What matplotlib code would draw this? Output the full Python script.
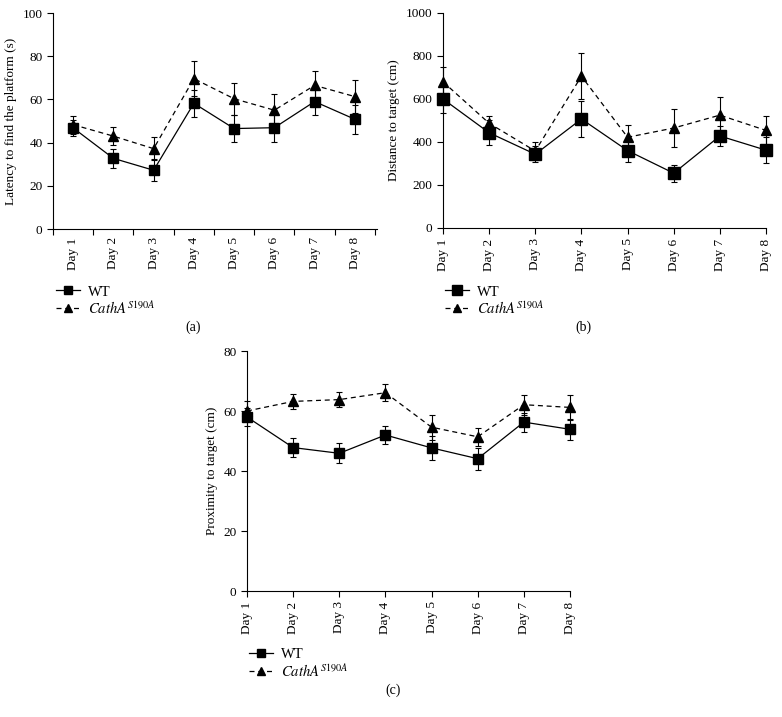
import matplotlib
matplotlib.use('Agg')
import matplotlib.pyplot as plt
from matplotlib.ticker import FixedLocator, NullFormatter

plt.rcParams['font.family'] = ['Liberation Serif', 'DejaVu Serif']
plt.rcParams['mathtext.fontset'] = 'stix'

days = ['Day 1', 'Day 2', 'Day 3', 'Day 4', 'Day 5', 'Day 6', 'Day 7', 'Day 8']
x = list(range(1, 9))

# (a) latency to find the platform (s)
wt_a = [46.8, 32.7, 27.2, 58.2, 46.5, 46.9, 59.0, 50.8]
wt_a_err = [3.8, 4.5, 5.2, 6.3, 6.3, 6.8, 6.2, 6.8]
cath_a = [48.3, 43.0, 37.2, 69.6, 60.3, 55.0, 66.5, 61.3]
cath_a_err = [4.2, 4.3, 5.3, 8.1, 7.3, 7.5, 6.6, 7.6]

# (b) distance to target (cm)
wt_b = [600, 443, 343, 507, 360, 255, 428, 362]
wt_b_err = [65, 58, 38, 82, 52, 40, 46, 60]
cath_b = [680, 487, 358, 706, 422, 465, 525, 454]
cath_b_err = [70, 35, 42, 108, 58, 88, 84, 68]

# (c) proximity to target (cm)
wt_c = [58.0, 47.8, 45.9, 52.0, 47.7, 44.1, 56.3, 53.9]
wt_c_err = [3.0, 3.2, 3.3, 3.1, 3.9, 3.7, 3.2, 3.6]
cath_c = [60.0, 63.2, 63.8, 66.1, 54.6, 51.4, 62.1, 61.2]
cath_c_err = [3.2, 2.6, 2.6, 2.9, 4.1, 3.1, 3.4, 4.3]

wt_label = 'WT'
cath_label = r'$\mathit{CathA}^{\mathit{S190A}}$'

W, H = 782, 717
fig = plt.figure(figsize=(W / 100, H / 100), dpi=100)


def px_axes(l, r, t, b):
    return fig.add_axes([l / W, 1 - b / H, (r - l) / W, (b - t) / H])


def draw(ax, wt, wt_err, cath, cath_err, ms_sq, ms_tri):
    ax.errorbar(x, wt, yerr=wt_err, color='black', lw=0.9, ls='-', marker='s',
                ms=ms_sq, capsize=2.5, elinewidth=0.8, capthick=0.8,
                label=wt_label, zorder=3, clip_on=False)
    ax.errorbar(x, cath, yerr=cath_err, color='black', lw=0.9, ls=(0, (4, 3)),
                marker='^', ms=ms_tri, capsize=2.5, elinewidth=0.8, capthick=0.8,
                label=cath_label, zorder=3, clip_on=False)
    for s in ['top', 'right']:
        ax.spines[s].set_visible(False)
    for s in ['left', 'bottom']:
        ax.spines[s].set_linewidth(0.8)
    ax.tick_params(axis='y', direction='out', length=4, width=0.8, labelsize=9.5)
    ax.set_xticks(x)
    ax.set_xticklabels(days, rotation=90, fontsize=9.5)


def legend(ax, lx, ty):
    h, l = ax.get_legend_handles_labels()
    h = [hh[0] for hh in h]
    fig.legend(h, l, loc='upper left', bbox_to_anchor=(lx / W, 1 - ty / H),
               frameon=False, borderpad=0, handlelength=1.6, handletextpad=0.6,
               labelspacing=0.0, fontsize=10.5, markerscale=0.9)


# panel (a)
ax1 = px_axes(53, 377, 13, 229)
draw(ax1, wt_a, wt_a_err, cath_a, cath_a_err, 7, 6.5)
ax1.set_xlim(0.5, 8.55)
ax1.set_ylim(0, 100)
ax1.set_yticks(range(0, 101, 20))
ax1.tick_params(axis='x', which='major', length=0, pad=6)
ax1.xaxis.set_minor_locator(FixedLocator([i + 0.5 for i in range(0, 9)]))
ax1.xaxis.set_minor_formatter(NullFormatter())
ax1.tick_params(axis='x', which='minor', direction='out', length=4, width=0.8)
ax1.set_ylabel('Latency to find the platform (s)', fontsize=9.5)
legend(ax1, 49, 278)
fig.text(193 / W, 1 - 327 / H, '(a)', ha='center', va='center', fontsize=10)

# panel (b)
ax2 = px_axes(443, 766, 13, 228)
draw(ax2, wt_b, wt_b_err, cath_b, cath_b_err, 8.5, 7)
ax2.set_xlim(1, 8)
ax2.set_ylim(0, 1000)
ax2.set_yticks(range(0, 1001, 200))
ax2.tick_params(axis='x', direction='out', length=4, width=0.8)
ax2.set_ylabel('Distance to target (cm)', fontsize=9.5)
legend(ax2, 438, 278)
fig.text(583 / W, 1 - 327 / H, '(b)', ha='center', va='center', fontsize=10)

# panel (c)
ax3 = px_axes(247, 570, 351, 591)
draw(ax3, wt_c, wt_c_err, cath_c, cath_c_err, 6.5, 6.5)
ax3.set_xlim(1, 8)
ax3.set_ylim(0, 80)
ax3.set_yticks(range(0, 81, 20))
ax3.tick_params(axis='x', direction='out', length=4, width=0.8)
ax3.set_ylabel('Proximity to target (cm)', fontsize=9.5)
legend(ax3, 242, 641)
fig.text(393 / W, 1 - 690 / H, '(c)', ha='center', va='center', fontsize=10)

fig.savefig('out.png', dpi=100, facecolor='white')
